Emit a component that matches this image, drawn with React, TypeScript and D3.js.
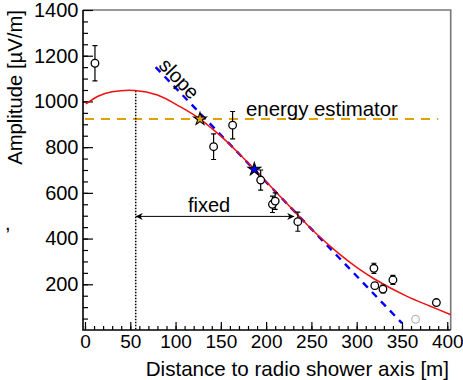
import React, { useEffect, useRef } from "react";
import * as d3 from "d3";

// axis ticks
const xTickValues = [0, 50, 100, 150, 200, 250, 300, 350, 400];
const yTickValues = [200, 400, 600, 800, 1000, 1200, 1400];

// measured antennas: distance [m], amplitude [uV/m], error
const distances = [11, 142, 163, 194, 207, 210, 235, 319, 320, 329, 340, 388];
const amplitudes = [1167, 802, 896, 656, 550, 564, 474, 270, 194, 179, 219, 120];
const errors = [77, 56, 60, 44, 36, 36, 42, 22, 13, 17, 20, 0];

// rejected antenna (grey)
const rejectedR = [365];
const rejectedA = [47];

// LDF fit (red)
const fitR = [1, 15, 30, 55, 80, 105, 127, 150, 171, 187, 208, 234, 255, 280, 300, 320, 355, 380, 404];
const fitA = [989, 1024, 1042, 1048, 1028, 977, 923, 848, 768, 703, 616, 507, 423, 335, 274, 222, 148, 106, 67];

// slope line (blue dashed)
const slopeR = [78, 350];
const slopeA = [1150, 30];

// energy estimator level (orange dashed)
const estimatorR = [0, 390];
const estimatorLevel = 923;

// fixed part
const fixedR = 56;
const fixedPeak = 1047;
const fixedEndR = 231;
const fixedLevel = 497;

// stars
const starR = [127, 187];
const starA = [923, 703];
const starColors = ["#e69f00", "#0000ff"];

const W = 463;
const H = 380;
const font = "'Liberation Sans', Arial, Helvetica, sans-serif";

const App = () => {
  const ref = useRef<SVGSVGElement>(null);

  useEffect(() => {
    const svg = d3.select(ref.current);
    svg.selectAll("*").remove();

    const x: any = d3.scaleLinear().domain([-2.2, 403.8]).range([83, 450.7]);
    const y: any = d3.scaleLinear().domain([0, 1400]).range([330, 10]);

    // frame (top and right grey)
    svg
      .append("path")
      .attr("d", `M83,10 L450.7,10 L450.7,330`)
      .attr("fill", "none")
      .attr("stroke", "#777")
      .attr("stroke-width", 1.6);

    // y axis
    const yMinor = svg.append("g").attr("transform", "translate(83,0)");
    yMinor.call(d3.axisLeft(y).tickValues(d3.range(50, 1400, 50)).tickSize(-5).tickFormat(() => ""));
    yMinor.select(".domain").remove();
    const yAxis = svg.append("g").attr("transform", "translate(83,0)");
    yAxis.call(d3.axisLeft(y).tickValues(yTickValues).tickSize(-10).tickPadding(4.5).tickFormat(d3.format("d")));
    yAxis.select(".domain").remove();
    yAxis.selectAll("text").style("font-size", "20px").style("font-family", font).attr("fill", "#000");

    // x axis
    const xMinor = svg.append("g").attr("transform", "translate(0,330)");
    xMinor.call(d3.axisBottom(x).tickValues(d3.range(0, 401, 10)).tickSize(-4).tickFormat(() => ""));
    xMinor.select(".domain").remove();
    const xAxis = svg.append("g").attr("transform", "translate(0,330)");
    xAxis.call(d3.axisBottom(x).tickValues(xTickValues).tickSize(-8).tickPadding(5).tickFormat(d3.format("d")));
    xAxis.select(".domain").remove();
    xAxis.selectAll("text").style("font-size", "19px").style("font-family", font).attr("fill", "#000");

    svg.selectAll(".tick line").attr("stroke", "#000").attr("stroke-width", 1.2);

    // axis lines
    svg
      .append("path")
      .attr("d", `M83,10 L83,330 L450.7,330`)
      .attr("fill", "none")
      .attr("stroke", "#000")
      .attr("stroke-width", 1.6);

    // titles
    svg
      .append("text")
      .attr("x", 449)
      .attr("y", 376)
      .attr("text-anchor", "end")
      .style("font-size", "20.6px")
      .style("font-family", font)
      .text("Distance to radio shower axis [m]");
    svg
      .append("text")
      .attr("transform", "translate(21.5,10) rotate(-90)")
      .attr("text-anchor", "end")
      .style("font-size", "20.3px")
      .style("font-family", font)
      .text("Amplitude [µV/m]");
    svg
      .append("text")
      .attr("x", 5)
      .attr("y", 230)
      .style("font-size", "20px")
      .style("font-family", font)
      .text(",");

    // energy estimator line
    svg
      .append("line")
      .attr("x1", x(estimatorR[0]))
      .attr("x2", x(estimatorR[1]))
      .attr("y1", y(estimatorLevel))
      .attr("y2", y(estimatorLevel))
      .attr("stroke", "#e69f00")
      .attr("stroke-width", 2)
      .attr("stroke-dasharray", "9 7");
    svg
      .append("text")
      .attr("x", 246)
      .attr("y", 116)
      .style("font-size", "20.4px")
      .style("font-family", font)
      .text("energy estimator");

    // fixed: dotted line and arrow
    svg
      .append("line")
      .attr("x1", x(fixedR))
      .attr("x2", x(fixedR))
      .attr("y1", y(fixedPeak))
      .attr("y2", y(0))
      .attr("stroke", "#000")
      .attr("stroke-width", 1.5)
      .attr("stroke-dasharray", "1.5 1.5");

    const defs = svg.append("defs");
    defs
      .append("marker")
      .attr("id", "arrowhead")
      .attr("viewBox", "0 0 10 10")
      .attr("refX", 10)
      .attr("refY", 5)
      .attr("markerUnits", "userSpaceOnUse")
      .attr("markerWidth", 9)
      .attr("markerHeight", 7)
      .attr("orient", "auto-start-reverse")
      .append("path")
      .attr("d", "M0,0 L10,5 L0,10 L3,5 z")
      .attr("fill", "#000");
    svg
      .append("line")
      .attr("x1", x(fixedR))
      .attr("x2", x(fixedEndR))
      .attr("y1", y(fixedLevel))
      .attr("y2", y(fixedLevel))
      .attr("stroke", "#000")
      .attr("stroke-width", 1)
      .attr("marker-start", "url(#arrowhead)")
      .attr("marker-end", "url(#arrowhead)");
    svg
      .append("text")
      .attr("x", 209)
      .attr("y", 211.5)
      .attr("text-anchor", "middle")
      .style("font-size", "20px")
      .style("font-family", font)
      .text("fixed");

    // slope line
    svg
      .append("line")
      .attr("x1", x(slopeR[0]))
      .attr("x2", x(slopeR[1]))
      .attr("y1", y(slopeA[0]))
      .attr("y2", y(slopeA[1]))
      .attr("stroke", "#0000ff")
      .attr("stroke-width", 2.4)
      .attr("stroke-dasharray", "7 6");
    const ang = (Math.atan2(y(slopeA[1]) - y(slopeA[0]), x(slopeR[1]) - x(slopeR[0])) * 180) / Math.PI;
    svg
      .append("text")
      .attr("transform", `translate(${x(slopeR[0]) + 2},${y(slopeA[0]) - 1}) rotate(${ang})`)
      .style("font-size", "20px")
      .style("font-family", font)
      .text("slope");

    // fit
    const line = d3
      .line<number>()
      .x((d, i) => x(fitR[i]))
      .y((d) => y(d))
      .curve(d3.curveCatmullRom.alpha(0.5));
    svg
      .append("path")
      .attr("d", line(fitA))
      .attr("fill", "none")
      .attr("stroke", "#ee1111")
      .attr("stroke-width", 1.5);

    // rejected point
    svg
      .selectAll(".rej")
      .data(rejectedR)
      .join("circle")
      .attr("cx", (d: any) => x(d))
      .attr("cy", (d: any, i: number) => y(rejectedA[i]))
      .attr("r", 3.8)
      .attr("fill", "#fff")
      .attr("stroke", "#bbb")
      .attr("stroke-width", 1.3);

    // error bars
    const pts = svg.append("g");
    distances.forEach((r, i) => {
      if (errors[i] > 0) {
        const cx = x(r);
        const yt = y(amplitudes[i] + errors[i]);
        const yb = y(amplitudes[i] - errors[i]);
        pts
          .append("path")
          .attr("d", `M${cx},${yt} L${cx},${yb} M${cx - 2.5},${yt} L${cx + 2.5},${yt} M${cx - 2.5},${yb} L${cx + 2.5},${yb}`)
          .attr("stroke", "#000")
          .attr("stroke-width", 1.2)
          .attr("fill", "none");
      }
    });
    pts
      .selectAll("circle")
      .data(distances)
      .join("circle")
      .attr("cx", (d: any) => x(d))
      .attr("cy", (d: any, i: number) => y(amplitudes[i]))
      .attr("r", 3.8)
      .attr("fill", "#fff")
      .attr("stroke", "#000")
      .attr("stroke-width", 1.3);

    // stars
    const star = d3.symbol().type(d3.symbolStar).size(50);
    svg
      .selectAll(".star")
      .data(starR)
      .join("path")
      .attr("transform", (d: any, i: number) => `translate(${x(d)},${y(starA[i])})`)
      .attr("d", star() as string)
      .attr("fill", (d: any, i: number) => starColors[i])
      .attr("stroke", "#000")
      .attr("stroke-width", 1.1);
  }, []);

  return (
    <svg
      ref={ref}
      width={W}
      height={H}
      viewBox={`0 0 ${W} ${H}`}
      style={{ position: "absolute", left: 0, top: 0, background: "#fff" }}
    ></svg>
  );
};

export default App;
